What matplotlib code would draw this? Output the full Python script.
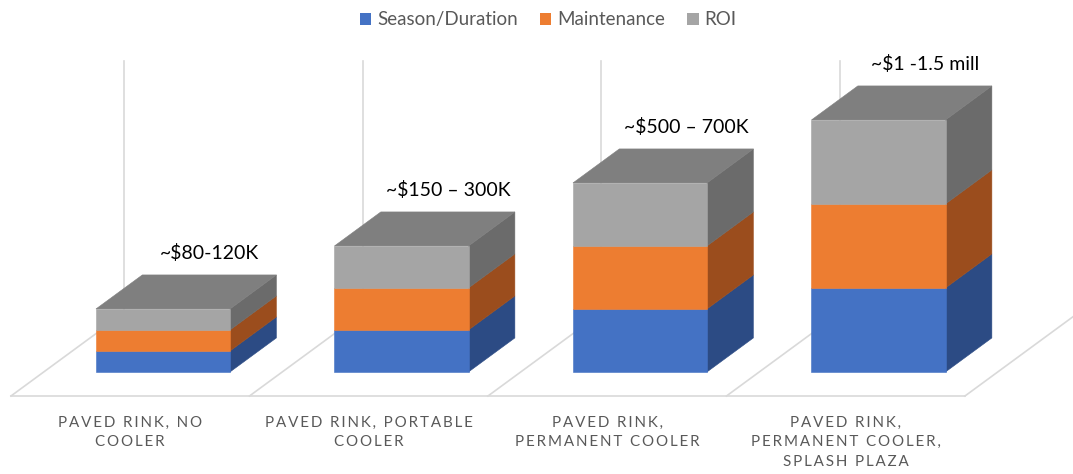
import matplotlib.pyplot as plt
from matplotlib.patches import Polygon, Rectangle

# donnees
categories = ["PAVED RINK, NO\nCOOLER",
              "PAVED RINK, PORTABLE\nCOOLER",
              "PAVED RINK,\nPERMANENT COOLER",
              "PAVED RINK,\nPERMANENT COOLER,\nSPLASH PLAZA"]
season = [1, 2, 3, 4]
maintenance = [1, 2, 3, 4]
roi = [1, 2, 3, 4]
cost_labels = ["~$80-120K", "~$150 – 300K", "~$500 – 700K", "~$1 -1.5 mill"]
series_names = ["Season/Duration", "Maintenance", "ROI"]
z_max = 12

front_colors = ['#4472C4', '#ED7D31', '#A5A5A5']
side_colors = ['#2C4B84', '#9B4D1D', '#6B6B6B']
top_color = '#7F7F7F'
grid_color = '#D9D9D9'

plt.rcParams['font.family'] = ['Lato', 'DejaVu Sans']

# projection oblique : profondeur d de 0 (avant du sol) a 1 (mur du fond)
DX, DZ = 0.474, 3.95
D_FRONT, D_BACK = 0.29, 0.70
HALF = 0.281


def proj(x, z, d):
    return (x + d * DX, z + d * DZ)


fig = plt.figure(figsize=(10.73, 4.74), dpi=100)
ax = fig.add_axes([0, 0, 1, 1])
ax.set_xlim(-0.546, 3.953)
ax.set_ylim(-3.714, 18.857)
ax.axis('off')

# sol et quadrillage du fond
n = len(categories)
bounds = [i - 0.5 for i in range(n + 1)]
x0, y0 = proj(bounds[0], 0, 0)
x1, y1 = proj(bounds[-1], 0, 0)
ax.plot([x0, x1], [y0, y1], color=grid_color, lw=1.2, zorder=1)
for b in bounds:
    p0, p1 = proj(b, 0, 0), proj(b, 0, 1)
    ax.plot([p0[0], p1[0]], [p0[1], p1[1]], color=grid_color, lw=1.2, zorder=1)
    p2 = proj(b, z_max, 1)
    ax.plot([p1[0], p2[0]], [p1[1], p2[1]], color=grid_color, lw=1.2, zorder=1)

# barres empilees en 3D
stacks = [season, maintenance, roi]
for i in range(n):
    xl, xr = i - HALF, i + HALF
    bottom = 0
    for s, vals in enumerate(stacks):
        top = bottom + vals[i]
        front = [proj(xl, bottom, D_FRONT), proj(xr, bottom, D_FRONT),
                 proj(xr, top, D_FRONT), proj(xl, top, D_FRONT)]
        side = [proj(xr, bottom, D_FRONT), proj(xr, bottom, D_BACK),
                proj(xr, top, D_BACK), proj(xr, top, D_FRONT)]
        ax.add_patch(Polygon(side, closed=True, facecolor=side_colors[s],
                             edgecolor=side_colors[s], lw=0.4, zorder=3))
        ax.add_patch(Polygon(front, closed=True, facecolor=front_colors[s],
                             edgecolor=front_colors[s], lw=0.4, zorder=4))
        bottom = top
    roof = [proj(xl, bottom, D_FRONT), proj(xr, bottom, D_FRONT),
            proj(xr, bottom, D_BACK), proj(xl, bottom, D_BACK)]
    ax.add_patch(Polygon(roof, closed=True, facecolor=top_color,
                         edgecolor=top_color, lw=0.4, zorder=3))
    lx, ly = proj(i, bottom + 1.05, D_BACK)
    ax.text(lx, ly, cost_labels[i], ha='center', va='center',
            fontsize=14, color='black', zorder=5)

# etiquettes des categories (lettres espacees)
for i, cat in enumerate(categories):
    spaced = '\n'.join('\u2009'.join(line) for line in cat.split('\n'))
    ax.text(i, -0.94, spaced, ha='center', va='top', fontsize=10.9,
            color='#595959', linespacing=1.5)

handles = [Rectangle((0, 0), 1, 1, facecolor=c) for c in front_colors]
fig.legend(handles, series_names, loc='upper center', bbox_to_anchor=(0.511, 1.012),
           ncol=3, frameon=False, fontsize=13.5, handlelength=0.6, handleheight=0.6,
           handletextpad=0.3, columnspacing=1.2, labelcolor='#595959')

fig.savefig('out.png', dpi=100)
